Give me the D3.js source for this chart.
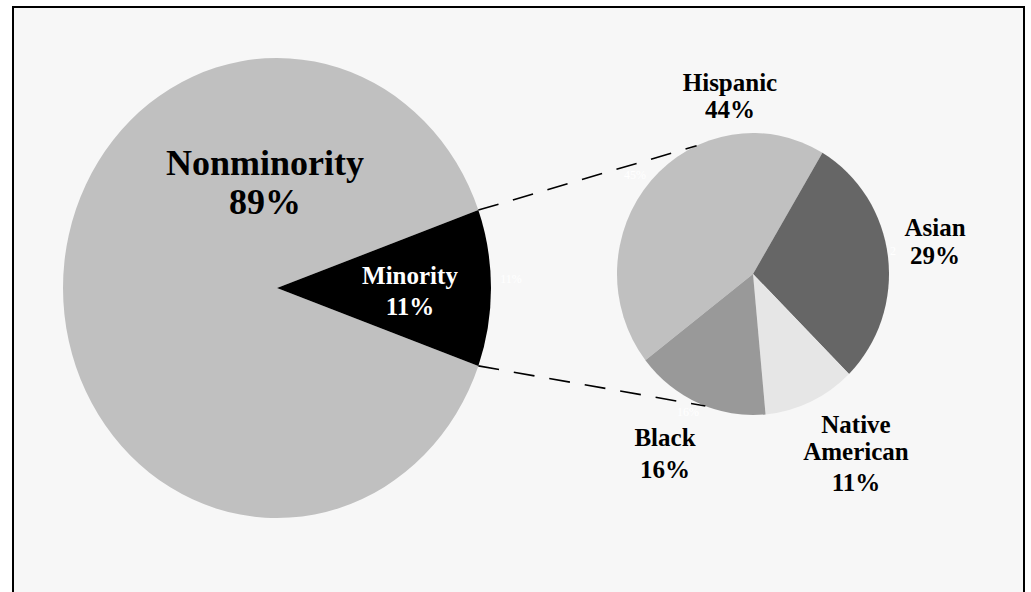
<!DOCTYPE html>
<html>
<head>
<meta charset="utf-8">
<script src="https://cdn.jsdelivr.net/npm/d3@7"></script>
<style>
  body { margin: 0; background: #ffffff; }
  svg { display: block; }
  text { font-family: "Liberation Serif", "Times New Roman", serif; font-weight: bold; }
</style>
</head>
<body>
<div id="chart"></div>
<script>
// overall split
var mainCats = ['Nonminority', 'Minority'];
var mainVals = [89, 11];

// breakdown of the minority slice
var subCats = ['Hispanic', 'Asian', 'Native American', 'Black'];
var subVals = [44, 29, 11, 16];

var svgWidth = 1031, svgHeight = 592;
var deg = Math.PI / 180;

function createSvg(parent, height, width) {
  return d3.select(parent)
           .append('svg')
           .attr('height', height)
           .attr('width', width);
}

var svg = createSvg('div#chart', svgHeight, svgWidth);

// frame
svg.append('rect')
   .attr('x', 13).attr('y', 7)
   .attr('width', 1011).attr('height', 620)
   .attr('fill', '#f7f7f7')
   .attr('stroke', '#000')
   .attr('stroke-width', 2);

// big pie (slightly stretched vertically, like the original)
var big = { cx: 277, cy: 288, rx: 214, ry: 230 };
var small = { cx: 753, cy: 274, rx: 136, ry: 141 };

var mainColor = d3.scaleOrdinal().domain(mainCats).range(['#c0c0c0', '#000000']);
var subColor = d3.scaleOrdinal().domain(subCats).range(['#c0c0c0', '#666666', '#e6e6e6', '#999999']);

var mainPie = d3.pie().sort(null)
  .startAngle(109.8 * deg).endAngle(109.8 * deg + 2 * Math.PI);
var subPie = d3.pie().sort(null)
  .startAngle(-127.7 * deg).endAngle(-127.7 * deg + 2 * Math.PI);

var mainData = mainPie(mainVals);
var subData = subPie(subVals);

var bigArc = d3.arc().innerRadius(0).outerRadius(big.rx);
var smallArc = d3.arc().innerRadius(0).outerRadius(small.rx);

var gBig = svg.append('g')
  .attr('transform', 'translate(' + big.cx + ',' + big.cy + ') scale(1,' + (big.ry / big.rx) + ')');
gBig.selectAll('path')
  .data(mainData)
  .enter()
  .append('path')
  .attr('d', bigArc)
  .attr('fill', function (d, i) { return mainColor(mainCats[i]); });

var gSmall = svg.append('g')
  .attr('transform', 'translate(' + small.cx + ',' + small.cy + ') scale(1,' + (small.ry / small.rx) + ')');
gSmall.selectAll('path')
  .data(subData)
  .enter()
  .append('path')
  .attr('d', smallArc)
  .attr('fill', function (d, i) { return subColor(subCats[i]); });

// connector lines: from the minority slice edges to the small pie
function onEllipse(e, a) {
  return [e.cx + e.rx * Math.sin(a), e.cy - e.ry * Math.cos(a)];
}
var minority = mainData[1];
var links = [
  [onEllipse(big, minority.startAngle), onEllipse(small, -24.5 * deg)],
  [onEllipse(big, minority.endAngle), onEllipse(small, 200.5 * deg)]
];
svg.selectAll('line.link')
  .data(links)
  .enter()
  .append('line')
  .attr('class', 'link')
  .attr('x1', function (d) { return d[0][0]; })
  .attr('y1', function (d) { return d[0][1]; })
  .attr('x2', function (d) { return d[1][0]; })
  .attr('y2', function (d) { return d[1][1]; })
  .attr('stroke', '#000')
  .attr('stroke-width', 1.6)
  .attr('stroke-dasharray', '21,15');

// faint leftover white labels of the original
var ghost = [
  { t: mainVals[1] + '%', x: 511, y: 283 },
  { t: '45%', x: 635, y: 179 },
  { t: subVals[3] + '%', x: 688, y: 416 },
  { t: '2', x: 893, y: 255 }
];
svg.selectAll('text.ghost')
  .data(ghost)
  .enter()
  .append('text')
  .attr('class', 'ghost')
  .attr('x', function (d) { return d.x; })
  .attr('y', function (d) { return d.y; })
  .attr('text-anchor', 'middle')
  .attr('font-size', 12)
  .style('font-weight', 'normal')
  .attr('fill', '#ffffff')
  .text(function (d) { return d.t; });

// labels
var labels = [
  { lines: ['Nonminority', mainVals[0] + '%'], x: 265, ys: [175, 214], size: 36, fill: '#000' },
  { lines: ['Minority', mainVals[1] + '%'], x: 410, ys: [284, 315], size: 25, fill: '#fff' },
  { lines: [subCats[0], subVals[0] + '%'], x: 730, ys: [91, 118], size: 25, fill: '#000' },
  { lines: [subCats[1], subVals[1] + '%'], x: 935, ys: [236, 264], size: 25, fill: '#000' },
  { lines: ['Native', 'American', subVals[2] + '%'], x: 856, ys: [433, 460, 491], size: 25, fill: '#000' },
  { lines: [subCats[3], subVals[3] + '%'], x: 665, ys: [446, 478], size: 25, fill: '#000' }
];

labels.forEach(function (lb) {
  svg.selectAll(null)
     .data(lb.lines)
     .enter()
     .append('text')
     .attr('x', lb.x)
     .attr('y', function (d, i) { return lb.ys[i]; })
     .attr('text-anchor', 'middle')
     .attr('font-size', lb.size)
     .attr('fill', lb.fill)
     .text(function (d) { return d; });
});
</script>
</body>
</html>
